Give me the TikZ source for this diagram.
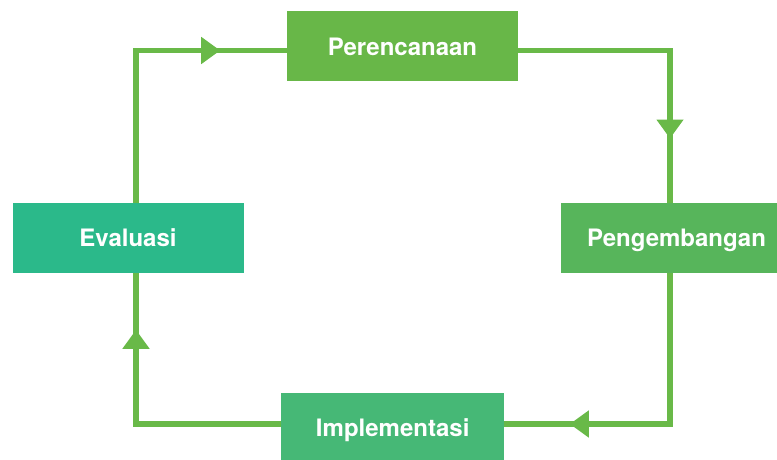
\documentclass[tikz,border=0pt]{standalone}
\usepackage{fontspec}
\setmainfont{TeX Gyre Heros}
\usetikzlibrary{arrows.meta,decorations.markings}
\definecolor{linegreen}{HTML}{69B948}
\definecolor{plangreen}{HTML}{68B748}
\definecolor{devgreen}{HTML}{57B55B}
\definecolor{evalgreen}{HTML}{2BB98A}
\definecolor{implgreen}{HTML}{46B876}
\begin{document}
\begin{tikzpicture}[x=1pt,y=-1pt,
  stage/.style={rectangle, minimum width=231pt, minimum height=70pt,
    inner sep=0pt, text=white, font=\fontsize{24}{28}\selectfont\bfseries,
    text height=17.3pt, text depth=0pt},
  flow/.style={draw=linegreen, color=linegreen, line width=5.4pt},
  tipmark/.style={postaction=decorate, decoration={markings,
    mark=at position #1 with {\arrow{Triangle[length=19pt,width=26pt]}}}}
]
\useasboundingbox (0,0) rectangle (777,460);
\clip (0,0) rectangle (777,460);

% the four stages of the cycle
\node[stage, fill=plangreen] (per) at (402.5,46.5) {Perencanaan};
\node[stage, fill=devgreen] (peng) at (676.5,237.7) {Pengembangan};
\node[stage, fill=evalgreen] (eva) at (128,237.7) {Evaluasi};
\node[stage, fill=implgreen, minimum width=223pt] (imp) at (392.7,427.7) {Implementasi};

% corners of the loop
\coordinate (ne) at (670,50.5);
\coordinate (se) at (670,424);
\coordinate (sw) at (136,424);
\coordinate (nw) at (136,50.5);

% connectors, each with an arrowhead along the way
\draw[flow, tipmark=239.8pt] (per.east |- ne) -- (ne) -- (ne |- peng.north);
\draw[flow, tipmark=251.3pt] (peng.south -| se) -- (se) -- (se -| imp.east);
\draw[flow, tipmark=239.2pt] (imp.west |- sw) -- (sw) -- (sw |- eva.south);
\draw[flow, tipmark=236.2pt] (eva.north -| nw) -- (nw) -- (nw -| per.west);
\end{tikzpicture}
\end{document}
